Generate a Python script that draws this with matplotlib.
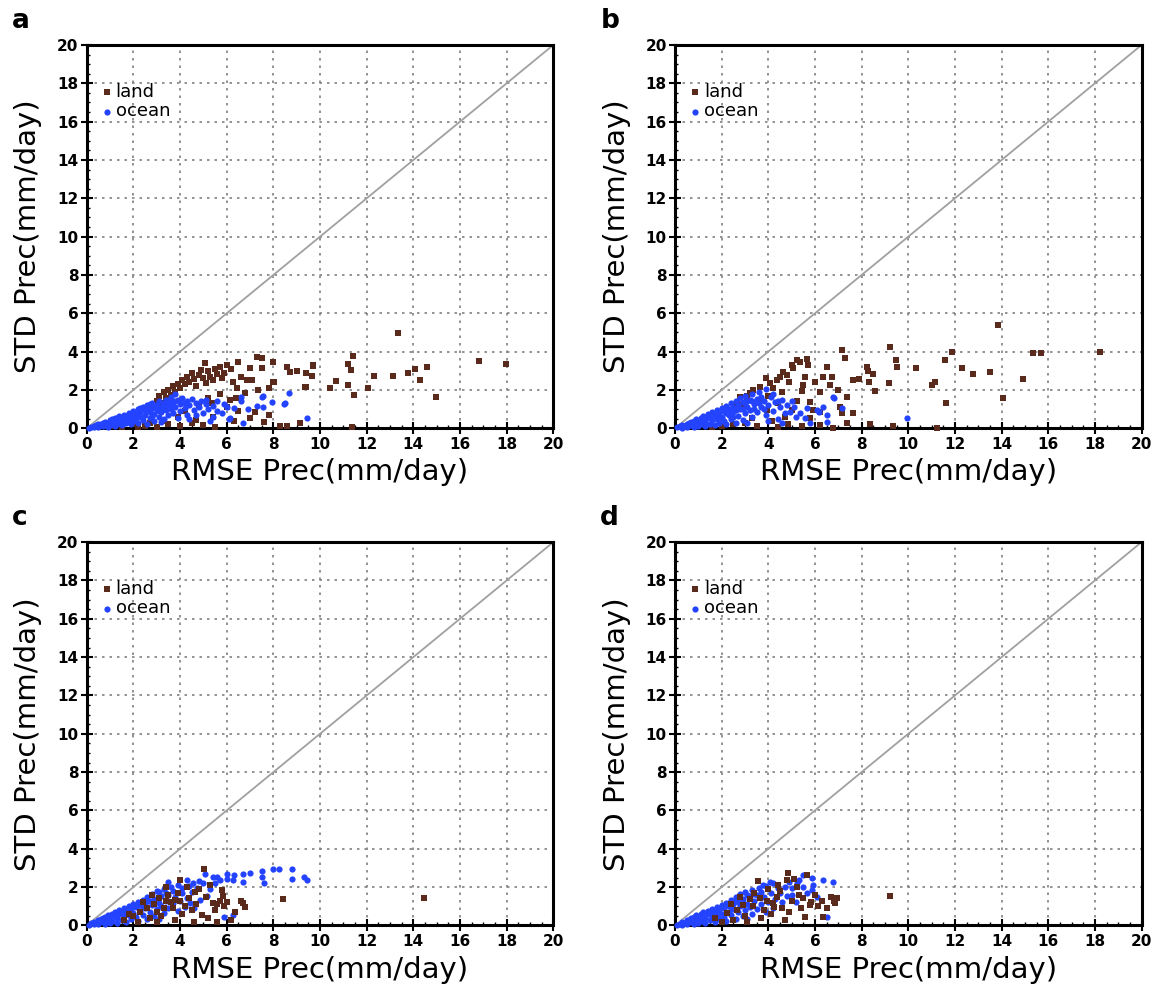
import matplotlib
matplotlib.use('Agg')
import matplotlib.pyplot as plt
from matplotlib.ticker import MultipleLocator

OUT_FILE = 'out.png'

LAND_COLOR = '#5a2a1c'
OCEAN_COLOR = '#2443ff'

# panel letters
panels = ['a', 'b', 'c', 'd']

# ---- panel a ----
a_land = [(2.8, 1.1), (3.0, 1.4), (3.1, 1.7), (3.2, 1.3), (3.3, 1.9), (3.4, 1.6), (3.5, 2.0), (3.6, 1.75),
          (3.7, 2.2), (3.8, 1.9), (3.9, 2.3), (4.0, 2.1), (4.1, 2.5), (4.2, 2.3), (4.3, 2.7), (4.4, 2.4),
          (4.5, 2.9), (4.6, 2.55), (4.7, 2.2), (4.8, 2.8), (4.9, 3.05), (5.0, 2.6), (5.07, 3.4), (5.1, 2.35),
          (5.2, 3.0), (5.3, 2.7), (5.4, 2.5), (5.5, 3.1), (5.6, 2.85), (5.7, 3.2), (5.8, 2.6), (5.9, 2.9),
          (6.0, 3.3), (6.2, 3.1), (6.29, 2.43), (6.43, 2.08), (6.5, 3.48), (6.6, 2.7), (6.86, 2.52), (7.0, 3.13),
          (7.07, 2.52), (7.3, 3.74), (7.36, 1.99), (7.5, 3.65), (7.5, 3.13), (7.83, 2.08), (8.0, 3.48),
          (8.0, 2.43), (8.57, 3.2), (8.71, 2.95), (9.0, 2.97), (9.4, 2.9), (9.68, 3.27), (9.36, 2.13),
          (9.39, 2.17), (9.71, 3.3), (9.64, 2.75), (8.03, 2.4), (10.43, 2.08), (10.67, 2.48), (11.21, 2.26),
          (12.07, 2.08), (11.21, 3.34), (11.43, 3.79), (11.31, 3.04), (12.31, 2.75), (13.11, 2.75),
          (13.36, 4.96), (13.76, 2.9), (14.09, 3.09), (14.57, 3.22), (14.29, 2.52), (14.97, 1.65),
          (16.8, 3.51), (17.97, 3.34), (11.44, 1.74), (7.83, 0.69), (7.0, 0.56), (5.43, 0.61), (6.0, 1.13),
          (6.14, 1.48), (5.36, 1.3), (6.5, 0.9), (4.5, 0.3), (3.5, 0.2), (2.5, 0.1), (1.5, 0.05), (2.0, 0.2),
          (3.0, 0.05), (4.0, 0.1), (5.0, 0.15), (5.5, 0.05), (6.3, 0.4), (7.2, 0.85), (7.6, 0.35), (8.3, 0.1),
          (8.6, 0.1), (9.14, 0.26), (11.36, 0.08), (2.2, 0.05), (2.7, 0.3), (1.2, 0.1), (4.7, 0.45),
          (3.9, 0.6), (4.2, 0.9), (4.8, 1.2), (5.7, 1.8), (5.2, 1.6), (6.8, 1.85), (6.4, 1.6), (3.3, 0.4)]
a_ocean = [(0.1, 0.03), (0.2, 0.08), (0.3, 0.05), (0.3, 0.12), (0.4, 0.15), (0.5, 0.08), (0.5, 0.2),
           (0.6, 0.25), (0.7, 0.1), (0.7, 0.28), (0.8, 0.2), (0.8, 0.35), (0.9, 0.05), (0.9, 0.3), (1.0, 0.15),
           (1.0, 0.42), (1.1, 0.3), (1.1, 0.5), (1.2, 0.1), (1.2, 0.38), (1.3, 0.25), (1.3, 0.55), (1.4, 0.45),
           (1.4, 0.62), (1.5, 0.15), (1.5, 0.35), (1.6, 0.5), (1.6, 0.7), (1.7, 0.28), (1.7, 0.6), (1.8, 0.45),
           (1.8, 0.8), (1.9, 0.2), (1.9, 0.65), (2.0, 0.4), (2.0, 0.9), (2.1, 0.55), (2.1, 0.75), (2.2, 0.3),
           (2.2, 1.0), (2.3, 0.6), (2.3, 0.85), (2.4, 0.45), (2.4, 1.1), (2.5, 0.7), (2.5, 0.95), (2.6, 0.2),
           (2.6, 1.2), (2.7, 0.55), (2.7, 0.85), (2.8, 1.05), (2.8, 1.3), (2.9, 0.4), (2.9, 0.75), (3.0, 0.95),
           (3.0, 1.2), (3.1, 0.6), (3.1, 1.4), (3.2, 0.85), (3.2, 1.1), (3.3, 1.3), (3.3, 0.5), (3.4, 1.5),
           (3.4, 0.95), (3.5, 1.2), (3.5, 0.7), (3.6, 1.65), (3.6, 1.0), (3.7, 1.35), (3.7, 0.8), (3.8, 1.8),
           (3.8, 1.1), (3.9, 1.5), (3.9, 0.55), (4.0, 1.25), (4.0, 0.9), (4.1, 1.6), (4.2, 1.05), (4.3, 1.4),
           (4.3, 0.7), (4.4, 1.2), (4.5, 1.55), (4.6, 0.95), (4.7, 1.3), (4.8, 1.1), (4.9, 1.45), (5.0, 0.8),
           (5.1, 1.25), (5.1, 1.5), (5.2, 1.0), (5.4, 1.15), (5.4, 0.6), (5.6, 1.45), (5.8, 0.8), (5.9, 1.25),
           (6.1, 0.5), (6.3, 1.05), (6.6, 1.65), (6.6, 1.4), (6.9, 1.0), (6.71, 0.26), (6.14, 0.52),
           (7.3, 1.17), (7.5, 1.65), (7.57, 1.13), (7.93, 1.39), (8.46, 1.26), (8.69, 1.83), (9.43, 0.52),
           (7.57, 1.7), (8.5, 1.3), (2.6, 0.95), (2.9, 1.15), (3.1, 0.9), (3.3, 1.05), (3.5, 1.45), (3.7, 1.1),
           (2.3, 1.05), (2.7, 1.25), (3.4, 1.25), (3.8, 1.4), (4.2, 1.3), (4.0, 1.5), (3.6, 1.3), (1.6, 0.4),
           (1.2, 0.55), (0.6, 0.15), (2.8, 0.65), (3.2, 0.35), (4.4, 0.5), (4.7, 0.7), (5.3, 0.4), (5.6, 0.9),
           (6.0, 1.1)]

# ---- panel b ----
b_land = [(13.86, 5.39), (7.14, 4.08), (9.21, 4.26), (7.29, 3.65), (9.47, 3.57), (9.53, 3.21), (10.33, 3.16),
          (8.21, 3.21), (8.29, 3.0), (8.5, 2.83), (8.33, 2.43), (8.57, 1.96), (9.19, 2.35), (7.61, 2.52),
          (7.9, 2.56), (7.36, 1.65), (7.64, 0.78), (11.57, 3.57), (11.86, 4.0), (12.29, 3.13), (12.79, 2.83),
          (13.5, 2.96), (14.9, 2.56), (15.33, 3.91), (15.71, 3.91), (18.21, 3.96), (14.04, 1.6), (11.61, 1.3),
          (11.0, 2.26), (11.14, 2.43), (6.5, 3.21), (6.36, 2.66), (6.71, 2.7), (6.64, 2.26), (7.0, 2.0),
          (7.07, 1.13), (7.14, 0.78), (6.21, 0.87), (5.5, 2.26), (5.57, 2.66), (5.36, 3.48), (5.64, 3.6),
          (5.71, 3.3), (5.43, 1.96), (5.21, 1.43), (5.79, 1.35), (6.79, 0.03), (7.36, 0.29), (8.36, 0.2),
          (9.36, 0.1), (11.21, 0.03), (5.07, 3.13), (4.79, 2.78), (4.36, 2.52), (4.07, 2.35), (3.64, 2.13),
          (3.36, 2.0), (5.21, 3.57), (5.0, 3.3), (4.64, 2.96), (4.5, 2.7), (5.43, 0.1), (4.86, 0.2),
          (4.14, 0.38), (3.0, 0.3), (3.29, 0.56), (5.79, 0.52), (5.93, 0.96), (5.0, 0.96), (4.43, 1.3),
          (3.93, 0.96), (3.64, 1.48), (3.07, 1.48), (2.79, 1.65), (3.21, 1.83), (2.64, 1.3), (3.9, 2.6),
          (4.2, 2.1), (4.9, 2.4), (3.1, 1.7), (2.9, 1.2), (4.6, 1.9), (4.0, 1.7), (6.0, 2.4), (6.2, 1.9),
          (2.0, 0.1), (2.5, 0.2), (3.5, 0.1), (4.4, 0.05), (1.6, 0.05), (6.2, 0.15), (4.7, 0.6)]
b_ocean = [(0.1, 0.05), (0.2, 0.1), (0.3, 0.04), (0.3, 0.18), (0.4, 0.12), (0.5, 0.25), (0.5, 0.06),
           (0.6, 0.3), (0.7, 0.15), (0.7, 0.35), (0.8, 0.08), (0.8, 0.4), (0.9, 0.25), (0.9, 0.5), (1.0, 0.12),
           (1.0, 0.38), (1.1, 0.55), (1.1, 0.22), (1.2, 0.45), (1.2, 0.65), (1.3, 0.1), (1.3, 0.35),
           (1.4, 0.55), (1.4, 0.75), (1.5, 0.25), (1.5, 0.6), (1.6, 0.45), (1.6, 0.85), (1.7, 0.15),
           (1.7, 0.7), (1.8, 0.5), (1.8, 0.95), (1.9, 0.3), (1.9, 0.8), (2.0, 0.6), (2.0, 1.05), (2.1, 0.4),
           (2.1, 0.9), (2.2, 0.2), (2.2, 1.15), (2.3, 0.7), (2.3, 1.0), (2.4, 0.5), (2.4, 1.3), (2.5, 0.85),
           (2.5, 1.1), (2.6, 0.3), (2.6, 1.45), (2.7, 0.65), (2.7, 1.2), (2.8, 1.0), (2.8, 1.6), (2.9, 0.45),
           (2.9, 1.35), (3.0, 0.8), (3.0, 1.7), (3.1, 1.1), (3.1, 0.3), (3.2, 1.5), (3.2, 0.95), (3.3, 1.8),
           (3.3, 0.6), (3.4, 1.25), (3.5, 1.55), (3.5, 0.85), (3.6, 1.9), (3.7, 1.1), (3.8, 1.45), (3.9, 2.05),
           (3.9, 0.7), (4.0, 1.2), (4.1, 1.65), (4.2, 0.9), (4.3, 1.35), (4.4, 0.5), (4.5, 1.1), (4.6, 1.5),
           (4.7, 0.8), (4.8, 1.2), (4.93, 0.87), (5.0, 1.4), (5.2, 0.6), (5.36, 0.78), (5.57, 0.52),
           (5.64, 1.04), (5.8, 0.3), (6.07, 0.96), (6.16, 0.87), (6.36, 1.13), (6.5, 0.7), (6.5, 0.35),
           (6.79, 1.65), (6.8, 1.56), (7.14, 1.04), (9.93, 0.52), (2.5, 0.6), (3.0, 1.3), (3.4, 1.0),
           (3.6, 1.3), (2.2, 0.8), (1.9, 0.55), (3.8, 1.0), (4.2, 1.8), (4.4, 1.4), (3.3, 1.4), (2.6, 0.95),
           (2.9, 1.0), (3.7, 1.65), (4.0, 0.4), (4.6, 0.3), (5.1, 1.1), (3.1, 1.45), (2.4, 0.9)]

# ---- panel c ----
c_land = [(8.43, 1.37), (14.47, 1.45), (5.03, 2.95), (6.71, 1.15), (6.8, 0.95), (6.6, 1.3), (5.43, 1.16),
          (5.5, 0.8), (5.57, 1.1), (5.7, 1.3), (5.79, 1.85), (5.83, 1.54), (5.9, 1.0), (6.0, 1.2), (4.93, 0.55),
          (4.64, 1.76), (4.0, 2.37), (3.79, 1.33), (3.4, 1.3), (3.7, 0.9), (3.0, 0.7), (2.6, 0.9), (2.9, 1.1),
          (3.2, 0.5), (3.5, 1.6), (4.2, 1.0), (4.4, 1.45), (4.1, 0.6), (4.7, 1.1), (5.1, 1.5), (5.2, 0.4),
          (2.3, 0.7), (2.0, 0.5), (2.4, 1.2), (2.7, 0.4), (3.1, 1.45), (3.3, 0.9), (3.6, 1.2), (3.9, 1.7),
          (4.5, 0.8), (4.8, 1.9), (1.8, 0.6), (1.6, 0.3), (2.2, 0.2), (3.8, 0.3), (4.3, 2.0), (5.3, 2.1),
          (6.2, 0.3), (6.35, 0.7), (5.6, 0.2), (4.6, 0.2), (3.4, 2.0), (2.8, 1.6), (3.0, 0.2), (4.0, 1.25)]
c_ocean = [(7.5, 2.86), (7.97, 2.95), (8.26, 2.95), (8.79, 2.93), (8.81, 2.43), (9.31, 2.55), (9.43, 2.38),
           (7.5, 2.55), (7.61, 2.2), (7.0, 2.72), (6.71, 2.69), (6.71, 2.29), (6.33, 2.64), (6.26, 2.38),
           (6.0, 2.67), (6.0, 2.43), (5.71, 2.37), (5.57, 2.55), (5.43, 2.55), (5.07, 2.69), (5.0, 2.2),
           (4.71, 1.94), (4.57, 2.2), (4.29, 2.37), (4.07, 1.94), (5.14, 1.54), (4.86, 1.33), (4.43, 1.16),
           (6.29, 0.55), (3.5, 2.28), (0.1, 0.05), (0.2, 0.12), (0.3, 0.06), (0.3, 0.2), (0.4, 0.15),
           (0.5, 0.28), (0.5, 0.08), (0.6, 0.33), (0.7, 0.18), (0.7, 0.4), (0.8, 0.1), (0.8, 0.45),
           (0.9, 0.28), (0.9, 0.55), (1.0, 0.15), (1.0, 0.42), (1.1, 0.6), (1.1, 0.25), (1.2, 0.5),
           (1.2, 0.72), (1.3, 0.12), (1.3, 0.4), (1.4, 0.6), (1.4, 0.8), (1.5, 0.3), (1.5, 0.68), (1.6, 0.5),
           (1.6, 0.9), (1.7, 0.2), (1.7, 0.75), (1.8, 0.55), (1.8, 1.0), (1.9, 0.35), (1.9, 0.85), (2.0, 0.65),
           (2.0, 1.1), (2.1, 0.45), (2.1, 0.95), (2.2, 0.25), (2.2, 1.2), (2.3, 0.75), (2.3, 1.05),
           (2.4, 0.55), (2.4, 1.35), (2.5, 0.9), (2.5, 1.15), (2.6, 0.35), (2.6, 1.5), (2.7, 0.7), (2.7, 1.25),
           (2.8, 1.05), (2.8, 1.65), (2.9, 0.5), (2.9, 1.4), (3.0, 0.85), (3.0, 1.8), (3.1, 1.15), (3.1, 0.35),
           (3.2, 1.55), (3.2, 1.0), (3.3, 1.9), (3.3, 0.65), (3.4, 1.3), (3.5, 1.6), (3.5, 0.9), (3.6, 2.0),
           (3.7, 1.15), (3.8, 1.5), (3.9, 2.1), (3.9, 0.75), (4.0, 1.25), (4.1, 1.7), (4.2, 0.95), (4.3, 1.45),
           (4.5, 1.75), (4.6, 0.9), (4.8, 2.3), (5.3, 1.9), (5.5, 2.2), (3.7, 1.8), (3.4, 1.7), (2.9, 1.2),
           (3.1, 1.75), (2.4, 1.0), (2.6, 1.3), (4.4, 2.05), (5.9, 0.45)]

# ---- panel d ----
d_land = [(9.21, 1.56), (4.83, 2.76), (5.64, 2.63), (6.93, 1.42), (6.86, 1.16), (6.8, 1.3), (6.29, 1.25),
          (6.14, 1.0), (5.8, 1.05), (5.85, 1.2), (5.21, 2.03), (4.79, 2.37), (4.36, 1.5), (4.21, 1.16),
          (3.93, 1.25), (3.64, 1.42), (3.36, 0.99), (2.93, 1.07), (2.64, 0.81), (2.21, 0.64), (5.57, 0.46),
          (6.36, 0.46), (3.57, 2.3), (4.5, 1.8), (5.0, 1.3), (5.3, 1.6), (4.6, 0.9), (4.1, 0.6), (3.2, 1.4),
          (3.0, 0.5), (2.5, 0.3), (2.0, 0.2), (4.9, 0.7), (5.5, 1.45), (4.0, 1.9), (3.8, 0.8), (3.4, 1.7),
          (2.8, 1.5), (4.4, 2.1), (5.1, 2.4), (6.0, 1.6), (6.5, 0.9), (1.7, 0.4), (3.1, 0.2), (4.7, 0.3),
          (5.4, 0.9), (6.7, 1.5), (2.4, 1.1), (3.7, 0.4), (4.25, 0.95)]
d_ocean = [(6.79, 2.29), (6.36, 2.37), (5.86, 2.46), (5.5, 2.63), (5.93, 2.11), (5.86, 1.85), (6.07, 1.5),
           (5.64, 1.67), (6.5, 0.46), (5.21, 2.2), (5.0, 1.94), (4.71, 2.03), (4.07, 2.29), (3.79, 2.11),
           (0.1, 0.04), (0.2, 0.1), (0.3, 0.05), (0.3, 0.18), (0.4, 0.13), (0.5, 0.26), (0.5, 0.07),
           (0.6, 0.3), (0.7, 0.16), (0.7, 0.38), (0.8, 0.1), (0.8, 0.43), (0.9, 0.26), (0.9, 0.52),
           (1.0, 0.14), (1.0, 0.4), (1.1, 0.58), (1.1, 0.24), (1.2, 0.48), (1.2, 0.7), (1.3, 0.12),
           (1.3, 0.38), (1.4, 0.58), (1.4, 0.78), (1.5, 0.28), (1.5, 0.65), (1.6, 0.48), (1.6, 0.88),
           (1.7, 0.18), (1.7, 0.72), (1.8, 0.52), (1.8, 0.98), (1.9, 0.33), (1.9, 0.82), (2.0, 0.62),
           (2.0, 1.08), (2.1, 0.42), (2.1, 0.93), (2.2, 0.22), (2.2, 1.18), (2.3, 0.72), (2.3, 1.02),
           (2.4, 0.52), (2.4, 1.32), (2.5, 0.88), (2.5, 1.12), (2.6, 0.32), (2.6, 1.48), (2.7, 0.68),
           (2.7, 1.22), (2.8, 1.02), (2.8, 1.62), (2.9, 0.48), (2.9, 1.38), (3.0, 0.82), (3.0, 1.75),
           (3.1, 1.12), (3.1, 0.32), (3.2, 1.52), (3.2, 0.98), (3.3, 1.85), (3.3, 0.62), (3.4, 1.28),
           (3.5, 1.58), (3.5, 0.88), (3.6, 1.95), (3.7, 1.12), (3.8, 1.48), (3.9, 2.05), (3.9, 0.72),
           (4.0, 1.22), (4.1, 1.68), (4.2, 0.92), (4.3, 1.4), (4.5, 1.7), (4.6, 1.2), (4.8, 1.55), (5.0, 1.6),
           (5.2, 1.2), (5.5, 2.0), (3.4, 1.65), (3.7, 1.75), (2.9, 1.15), (3.1, 1.6), (2.4, 0.95), (2.6, 1.25),
           (4.4, 1.95), (4.2, 2.2), (5.3, 2.35), (4.9, 2.25)]

land_series = [a_land, b_land, c_land, d_land]
ocean_series = [a_ocean, b_ocean, c_ocean, d_ocean]


def draw_panel(ax, letter, land, ocean, land_on_top):
    ax.set_xlim(0, 20)
    ax.set_ylim(0, 20)
    ax.xaxis.set_major_locator(MultipleLocator(2))
    ax.yaxis.set_major_locator(MultipleLocator(2))
    ax.xaxis.set_minor_locator(MultipleLocator(0.5))
    ax.yaxis.set_minor_locator(MultipleLocator(0.5))
    ax.grid(True, which='major', color='#808080', linestyle=(0, (1.5, 3)), linewidth=1.2)
    ax.tick_params(which='major', direction='inout', length=8, width=1.5, labelsize=11, pad=2)
    ax.tick_params(which='minor', direction='in', length=2.5, width=1)
    for lab in ax.get_xticklabels() + ax.get_yticklabels():
        lab.set_fontweight('bold')
    for sp in ax.spines.values():
        sp.set_linewidth(2.2)

    # 1:1 reference line
    ax.plot([0, 20], [0, 20], color='#a0a0a0', linewidth=1.3, zorder=2)

    lx, ly = zip(*land)
    ox, oy = zip(*ocean)
    z_land, z_ocean = (4, 3) if land_on_top else (3, 4)
    ax.scatter(lx, ly, s=17, marker='s', color=LAND_COLOR, linewidths=0, label='land', zorder=z_land,
               clip_on=False)
    ax.scatter(ox, oy, s=20, marker='o', color=OCEAN_COLOR, linewidths=0, label='ocean', zorder=z_ocean,
               clip_on=False)

    ax.legend(loc='upper left', bbox_to_anchor=(0.0, 0.935), frameon=False, fontsize=13,
              handletextpad=0.1, labelspacing=0.1, borderpad=0.2, handlelength=0.8, markerscale=1.0)

    ax.text(0.5, -0.115, 'RMSE Prec(mm/day)', transform=ax.transAxes, ha='center', va='center',
            fontsize=21)
    ax.text(-0.125, 0.5, 'STD Prec(mm/day)', transform=ax.transAxes, ha='center', va='center',
            rotation=90, fontsize=21)
    ax.text(-0.16, 1.045, letter, transform=ax.transAxes, ha='left', va='baseline',
            fontsize=19, fontweight='bold')


def generate_graphic():
    fig = plt.figure(figsize=(11.53, 9.86), dpi=100)
    positions = [[0.0752, 0.5656, 0.4047, 0.3888], [0.5854, 0.5656, 0.4047, 0.3888],
                 [0.0752, 0.0614, 0.4047, 0.3888], [0.5854, 0.0614, 0.4047, 0.3888]]
    for i, letter in enumerate(panels):
        ax = fig.add_axes(positions[i])
        draw_panel(ax, letter, land_series[i], ocean_series[i], land_on_top=(i >= 2))
    fig.savefig(OUT_FILE, dpi=100)
    plt.close(fig)


if __name__ == '__main__':
    generate_graphic()
